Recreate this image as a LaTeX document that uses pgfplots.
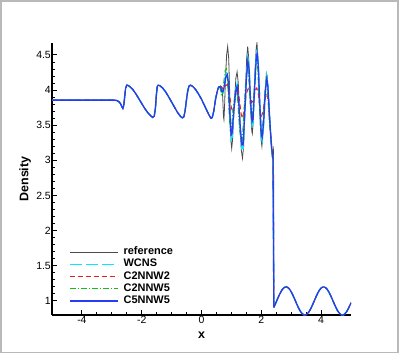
\documentclass[border=0pt]{standalone}
\usepackage{fontspec}
\setmainfont{Liberation Sans}
\usepackage{pgfplots}
\pgfplotsset{compat=1.18}
\usepackage{pgfplotstable}

\definecolor{refgray}{RGB}{75,75,75}
\definecolor{wcnscyan}{RGB}{0,235,255}
\definecolor{nnwred}{RGB}{230,30,30}
\definecolor{nnwgreen}{RGB}{20,190,20}
\definecolor{nnwblue}{RGB}{40,60,245}

% part before the shock-entropy interaction zone, same for all schemes
\pgfplotstableread{
x y
-5 3.857
-2.9 3.857
-2.82 3.85
-2.75 3.83
-2.7 3.80
-2.66 3.76
-2.63 3.74
-2.6 3.78
-2.57 3.9
-2.54 4.02
-2.5 4.07
-2.45 4.065
-2.4 4.05
-2.3 4.01
-2.2 3.95
-2.1 3.88
-2.0 3.81
-1.9 3.74
-1.8 3.68
-1.7 3.635
-1.63 3.61
-1.58 3.63
-1.54 3.75
-1.51 3.93
-1.48 4.05
-1.45 4.07
-1.4 4.065
-1.3 4.03
-1.2 3.975
-1.1 3.905
-1.0 3.83
-0.9 3.755
-0.8 3.68
-0.7 3.625
-0.64 3.605
-0.59 3.62
-0.55 3.7
-0.5 3.87
-0.46 3.99
-0.42 4.055
-0.37 4.07
-0.3 4.055
-0.2 4.01
-0.1 3.945
0.0 3.87
0.1 3.78
0.2 3.69
0.27 3.63
0.32 3.60
0.36 3.61
0.41 3.7
0.47 3.87
0.53 3.99
0.57 4.04
0.6 4.05
}\leftpart

% undisturbed flow ahead of the shock
\pgfplotstableread{
x y
2.42 0.910
2.45 0.938
2.5 0.987
2.55 1.037
2.6 1.084
2.65 1.126
2.7 1.161
2.75 1.185
2.8 1.198
2.85 1.199
2.9 1.187
2.95 1.164
3.0 1.130
3.05 1.088
3.1 1.041
3.15 0.992
3.2 0.942
3.25 0.897
3.3 0.858
3.35 0.827
3.4 0.808
3.45 0.800
3.5 0.804
3.55 0.822
3.6 0.850
3.65 0.887
3.7 0.932
3.75 0.980
3.8 1.030
3.85 1.078
3.9 1.121
3.95 1.157
4.0 1.183
4.05 1.197
4.1 1.199
4.15 1.189
4.2 1.167
4.25 1.135
4.3 1.094
4.35 1.048
4.4 0.998
4.45 0.949
4.5 0.903
4.55 0.862
4.6 0.831
4.65 0.810
4.7 0.800
4.75 0.803
4.8 0.819
4.85 0.845
4.9 0.882
4.95 0.926
5.0 0.974
}\rightpart

\pgfplotstableread{
x y
0.6 4.05
0.64 4.06
0.68 4.03
0.71 3.9
0.735 3.62
0.75 3.58
0.77 3.75
0.8 4.15
0.84 4.5
0.875 4.62
0.91 4.45
0.95 3.85
0.99 3.25
1.01 3.17
1.04 3.3
1.09 3.75
1.15 4.17
1.19 4.26
1.23 4.1
1.28 3.6
1.33 3.15
1.37 3.03
1.41 3.2
1.46 3.85
1.51 4.45
1.545 4.62
1.58 4.45
1.63 3.85
1.68 3.42
1.7 3.38
1.73 3.55
1.78 4.2
1.83 4.6
1.855 4.67
1.89 4.45
1.94 3.8
1.99 3.3
2.02 3.2
2.06 3.4
2.12 3.95
2.17 4.24
2.2 4.2
2.25 3.85
2.31 3.35
2.36 3.05
2.385 3.05
2.4 3.2
2.41 3.05
2.42 0.91
}\refmid

\pgfplotstableread{
x y
0.6 4.05
0.64 4.04
0.68 3.97
0.72 3.96
0.76 4.05
0.81 4.2
0.86 4.26
0.9 4.12
0.95 3.62
0.99 3.3
1.02 3.33
1.08 3.68
1.14 4.0
1.19 4.08
1.24 3.86
1.3 3.42
1.35 3.17
1.39 3.17
1.45 3.68
1.5 4.18
1.55 4.45
1.59 4.34
1.64 3.84
1.69 3.5
1.72 3.53
1.78 4.05
1.83 4.48
1.86 4.54
1.9 4.37
1.95 3.78
2.0 3.33
2.03 3.28
2.08 3.52
2.13 3.95
2.18 4.19
2.22 4.08
2.28 3.6
2.34 3.18
2.39 3.02
2.42 0.91
}\wcnsmid

\pgfplotstableread{
x y
0.6 4.05
0.66 4.05
0.72 4.02
0.8 4.06
0.87 4.08
0.93 3.95
1.0 3.75
1.05 3.68
1.1 3.8
1.17 4.0
1.21 4.02
1.27 3.85
1.33 3.65
1.37 3.6
1.42 3.7
1.5 3.95
1.56 4.02
1.62 3.95
1.68 3.82
1.72 3.85
1.8 4.0
1.85 4.03
1.9 3.95
1.96 3.7
2.0 3.62
2.05 3.68
2.12 3.88
2.18 3.95
2.23 3.85
2.3 3.45
2.37 3.1
2.4 3.02
2.42 0.91
}\ctwotwomid

\pgfplotstableread{
x y
0.6 4.05
0.64 4.0
0.67 3.92
0.7 3.95
0.74 4.1
0.79 4.28
0.83 4.31
0.87 4.15
0.92 3.7
0.96 3.42
0.99 3.4
1.05 3.7
1.12 3.97
1.16 4.02
1.21 3.85
1.27 3.45
1.32 3.27
1.36 3.28
1.42 3.7
1.48 4.15
1.53 4.33
1.57 4.25
1.62 3.85
1.67 3.58
1.7 3.6
1.76 4.0
1.81 4.38
1.84 4.45
1.88 4.3
1.93 3.82
1.98 3.42
2.01 3.37
2.06 3.58
2.11 3.92
2.16 4.12
2.2 4.05
2.26 3.6
2.33 3.22
2.39 3.03
2.42 0.91
}\ctwofivemid

\pgfplotstableread{
x y
0.6 4.05
0.64 4.04
0.68 3.98
0.72 3.98
0.76 4.05
0.81 4.18
0.86 4.22
0.9 4.1
0.95 3.65
0.99 3.36
1.02 3.38
1.08 3.7
1.14 3.98
1.19 4.05
1.24 3.85
1.3 3.45
1.35 3.22
1.39 3.22
1.45 3.7
1.5 4.15
1.55 4.41
1.59 4.3
1.64 3.85
1.69 3.55
1.72 3.58
1.78 4.05
1.83 4.45
1.86 4.52
1.9 4.35
1.95 3.8
2.0 3.38
2.03 3.33
2.08 3.55
2.13 3.95
2.18 4.15
2.22 4.05
2.28 3.6
2.34 3.2
2.39 3.02
2.42 0.91
}\cfivefivemid

\begin{document}
\begin{tikzpicture}
\begin{axis}[
    scale only axis,
    width=299bp, height=272bp,
    xmin=-5, xmax=5,
    ymin=0.8, ymax=4.67,
    axis x line*=bottom,
    axis y line*=left,
    axis line style={line width=1.3bp},
    xtick={-4,-2,0,2,4},
    xticklabels={-4,-2,0,2,4},
    ytick={1,1.5,2,2.5,3,3.5,4,4.5},
    yticklabels={1,1.5,2,2.5,3,3.5,4,4.5},
    minor x tick num=3,
    minor y tick num=4,
    major tick length=5bp,
    minor tick length=3bp,
    tick style={black, line width=0.9bp},
    ticklabel style={font=\fontsize{10.5}{12}\selectfont, inner sep=1bp},
    xlabel={\textbf{x}},
    ylabel={\textbf{Density}},
    label style={font=\fontsize{12.5}{14}\selectfont},
    xlabel style={at={(axis description cs:0.5,-0.075)}, anchor=center},
    ylabel style={at={(axis description cs:-0.09,0.5)}, anchor=center},
    legend cell align=left,
    legend style={draw=none, fill=none,
        at={(axis description cs:0.047,0.021)}, anchor=south west,
        font=\bfseries\fontsize{11}{12}\selectfont,
        column sep=5bp,
        nodes={inner sep=0pt, text height=8.6bp, text depth=3.6bp}},
    legend image code/.code={\draw[#1] (0bp,0bp) -- (48bp,0bp);},
]
% reference
\addplot[refgray, line width=0.8bp, forget plot] table {\leftpart};
\addplot[refgray, line width=0.8bp] table {\refmid};
\addplot[refgray, line width=0.8bp, forget plot] table {\rightpart};
% WCNS
\addplot[wcnscyan, line width=1.4bp, dash pattern=on 12bp off 4bp, forget plot] table {\leftpart};
\addplot[wcnscyan, line width=1.4bp, dash pattern=on 12bp off 4bp] table {\wcnsmid};
\addplot[wcnscyan, line width=1.4bp, dash pattern=on 12bp off 4bp, forget plot] table {\rightpart};
% C2NNW2
\addplot[nnwred, line width=1bp, dash pattern=on 5bp off 3bp, forget plot] table {\leftpart};
\addplot[nnwred, line width=1bp, dash pattern=on 5bp off 3bp] table {\ctwotwomid};
\addplot[nnwred, line width=1bp, dash pattern=on 5bp off 3bp, forget plot] table {\rightpart};
% C2NNW5
\addplot[nnwgreen, line width=0.9bp, dash pattern=on 6bp off 2bp on 1bp off 2bp, forget plot] table {\leftpart};
\addplot[nnwgreen, line width=0.9bp, dash pattern=on 6bp off 2bp on 1bp off 2bp] table {\ctwofivemid};
\addplot[nnwgreen, line width=0.9bp, dash pattern=on 6bp off 2bp on 1bp off 2bp, forget plot] table {\rightpart};
% C5NNW5
\addplot[nnwblue, line width=1.3bp, forget plot] table {\leftpart};
\addplot[nnwblue, line width=1.3bp] table {\cfivefivemid};
\addplot[nnwblue, line width=1.3bp, forget plot] table {\rightpart};
\legend{reference, WCNS, C2NNW2, C2NNW5, C5NNW5}
\end{axis}
\pgfresetboundingbox
\useasboundingbox (-52bp,-40bp) rectangle (347bp,315bp);
\draw[gray!55, line width=1.2bp] (-51bp,-37.5bp) rectangle (346bp,314bp);
\end{tikzpicture}
\end{document}
